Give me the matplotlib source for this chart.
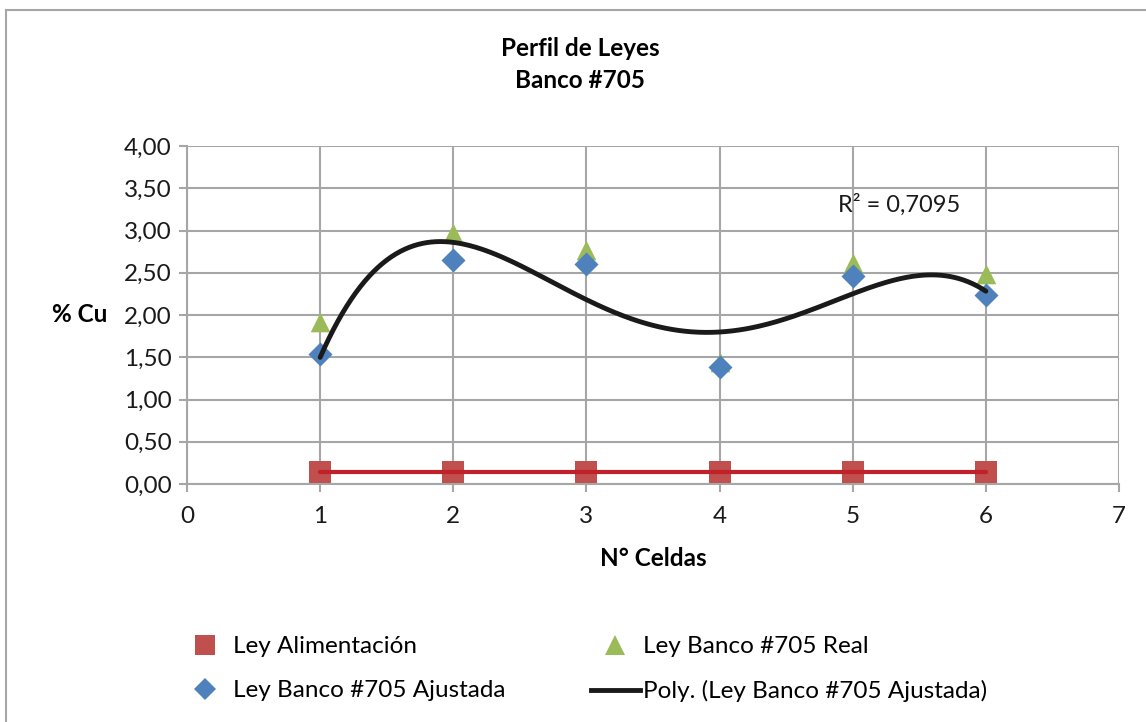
import numpy as np
import matplotlib
matplotlib.use("Agg")
import matplotlib.pyplot as plt
from matplotlib.lines import Line2D
from matplotlib.patches import Rectangle

plt.rcParams['font.family'] = ['Lato', 'DejaVu Sans']

# data
celdas = [1, 2, 3, 4, 5, 6]
ley_alim = [0.14, 0.14, 0.14, 0.14, 0.14, 0.14]
ley_real = [1.92, 2.97, 2.77, 1.44, 2.62, 2.48]
ley_ajust = [1.54, 2.65, 2.60, 1.38, 2.46, 2.24]
yticks = [0, 0.5, 1.0, 1.5, 2.0, 2.5, 3.0, 3.5, 4.0]
ytick_labels = ['0,00', '0,50', '1,00', '1,50', '2,00', '2,50', '3,00', '3,50', '4,00']

W, H = 1146, 722
fig = plt.figure(figsize=(W / 100, H / 100), dpi=100)

# chart border (top and left only visible)
fig.add_artist(Rectangle((6 / W, -0.05), 1.2, 1 - 10 / H + 0.05, transform=fig.transFigure,
                         fill=False, edgecolor='#a6a6a6', lw=1.5))

ax = fig.add_axes([187 / W, 1 - 484 / H, (1119 - 187) / W, (484 - 146) / H])

red = '#c0504d'
green = '#9bbb59'
blue = '#4f81bd'

ax.plot(celdas, ley_alim, color='#c0202a', lw=3, zorder=4, solid_capstyle='round')
ax.scatter(celdas, ley_alim, marker='s', s=230, color=red, zorder=3, linewidths=0)
ax.scatter(celdas, ley_real, marker='^', s=200, color=green, zorder=3, linewidths=0)
ax.scatter(celdas, ley_ajust, marker='D', s=150, color=blue, zorder=3, linewidths=0)

# polynomial trendline (order 4)
coef = np.polyfit(celdas, ley_ajust, 4)
xs = np.linspace(1, 6, 300)
ax.plot(xs, np.polyval(coef, xs), color='#1a1a1a', lw=3.5, zorder=5, solid_capstyle='round')
ax.text(5.35, 3.31, 'R² = 0,7095', fontsize=17, ha='center', va='center', color='#1a1a1a')

ax.set_xlim(0, 7)
ax.set_ylim(0, 4)
ax.set_xticks(range(8))
ax.set_yticks(yticks)
ax.set_yticklabels(ytick_labels)
ax.grid(True, color='#a6a6a6', lw=1.5)
ax.set_axisbelow(True)
for s in ['top', 'right']:
    ax.spines[s].set_visible(False)
for s in ['left', 'bottom']:
    ax.spines[s].set_color('#a6a6a6')
    ax.spines[s].set_linewidth(1.5)
ax.tick_params(length=6, width=1.5, color='#a6a6a6', labelsize=17.5, labelcolor='#1a1a1a')
ax.tick_params(axis='x', pad=10)
ax.tick_params(axis='y', pad=5)

fig.text(580 / W, 1 - 48 / H, 'Perfil de Leyes', ha='center', va='center', fontsize=17.5, fontweight='bold')
fig.text(580 / W, 1 - 80 / H, 'Banco #705', ha='center', va='center', fontsize=17.5, fontweight='bold')
fig.text(80 / W, 1 - 315 / H, '% Cu', ha='center', va='center', fontsize=17.5, fontweight='bold')
fig.text(653 / W, 1 - 558 / H, 'N° Celdas', ha='center', va='center', fontsize=17.5, fontweight='bold')

h_alim = Line2D([], [], ls='none', marker='s', ms=15, color=red, mew=0)
h_ajust = Line2D([], [], ls='none', marker='D', ms=11, color=blue, mew=0)
h_real = Line2D([], [], ls='none', marker='^', ms=15, color=green, mew=0)
h_poly = Line2D([], [], color='#1a1a1a', lw=3.5)

leg_kw = dict(frameon=False, fontsize=17.5, handlelength=2.0, handletextpad=0.15,
              labelspacing=0.95, borderpad=0, borderaxespad=0, loc='upper left')
leg1 = fig.legend([h_alim, h_ajust], ['Ley Alimentación', 'Ley Banco #705 Ajustada'],
                  bbox_to_anchor=(181 / W, 1 - 636 / H), **leg_kw)
leg2 = fig.legend([h_real, h_poly], ['Ley Banco #705 Real', 'Poly. (Ley Banco #705 Ajustada)'],
                  bbox_to_anchor=(591 / W, 1 - 636 / H), **leg_kw)

fig.savefig('out.png', dpi=100)
